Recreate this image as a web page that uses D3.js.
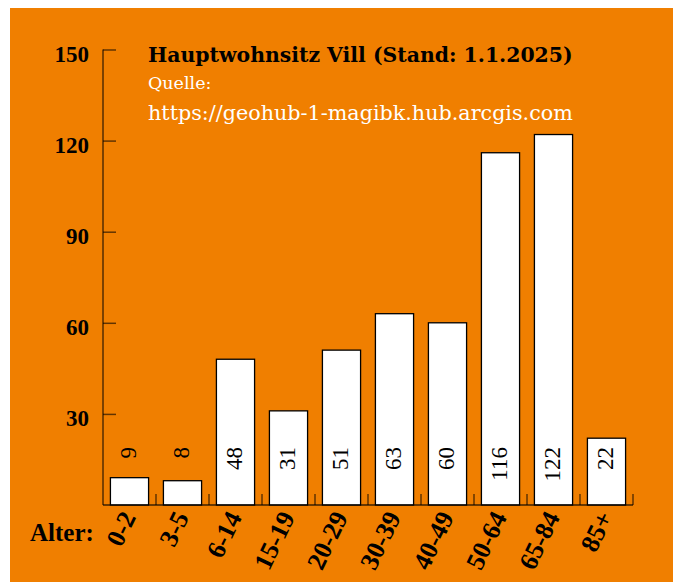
<!DOCTYPE html>
<html>
<head>
<meta charset="utf-8">
<script src="https://cdn.jsdelivr.net/npm/d3@7"></script>
<style>
  body { margin: 0; background: #fff; }
  svg { display: block; font-family: "Liberation Serif", serif; }
</style>
</head>
<body>
<svg id="chart" width="673" height="582"></svg>
<script>
// data
var ageGroups = ['0-2', '3-5', '6-14', '15-19', '20-29', '30-39', '40-49', '50-64', '65-84', '85+']
var residents = [9, 8, 48, 31, 51, 63, 60, 116, 122, 22]
var yTicks = [30, 60, 90, 120, 150]

var svg = d3.select('#chart')

// orange panel
svg.append('rect')
    .attr('x', 10).attr('y', 8)
    .attr('width', 663).attr('height', 574)
    .attr('fill', '#f07f00')

var x = d3.scaleBand()
    .domain(ageGroups)
    .range([103, 633])
    .paddingInner(0.28)
    .paddingOuter(0.14)

var y = d3.scaleLinear()
    .domain([0, 150])
    .range([505, 49.5])

var data = ageGroups.map(function(d, i) {
    return { age: d, value: residents[i] }
})

// bars
svg.selectAll('.bar')
    .data(data)
    .enter().append('rect')
    .attr('class', 'bar')
    .attr('x', function(d) { return x(d.age) })
    .attr('y', function(d) { return y(d.value) })
    .attr('width', x.bandwidth())
    .attr('height', function(d) { return y(0) - y(d.value) })
    .attr('fill', '#fff')
    .attr('stroke', '#000')
    .attr('stroke-width', 1.3)

// y axis, ticks pointing inward
var yAxis = svg.append('g')
    .attr('transform', 'translate(103,0)')
    .call(d3.axisLeft(y).tickValues(yTicks).tickSize(-13).tickPadding(14).tickSizeOuter(0))

yAxis.select('.domain')
    .attr('d', 'M0,' + y(150) + 'V' + y(0))
    .attr('stroke', '#000').attr('stroke-opacity', 0.65).attr('stroke-width', 1.5)
yAxis.selectAll('.tick line')
    .attr('stroke', '#000').attr('stroke-opacity', 0.6).attr('stroke-width', 1.5)
yAxis.selectAll('.tick text')
    .attr('font-family', '"Liberation Serif", serif')
    .attr('font-size', 23)
    .attr('font-weight', 'bold')
    .attr('fill', '#000')
    .attr('dy', '0.5em')

// x baseline and boundary ticks
svg.append('line')
    .attr('x1', 103).attr('x2', 633)
    .attr('y1', y(0)).attr('y2', y(0))
    .attr('stroke', '#000').attr('stroke-opacity', 0.75).attr('stroke-width', 1.5)

var step = x.step()
svg.selectAll('.xtick')
    .data(ageGroups)
    .enter().append('line')
    .attr('class', 'xtick')
    .attr('x1', function(d) { return x(d) - step * 0.14 + step })
    .attr('x2', function(d) { return x(d) - step * 0.14 + step })
    .attr('y1', y(0)).attr('y2', y(0) - 11)
    .attr('stroke', '#000').attr('stroke-opacity', 0.6).attr('stroke-width', 1.5)

// x labels, rotated
svg.selectAll('.xlabel')
    .data(ageGroups)
    .enter().append('text')
    .attr('class', 'xlabel')
    .attr('transform', function(d) {
        return 'translate(' + (x(d) + x.bandwidth() / 2 + 7) + ',517) rotate(-64)'
    })
    .attr('text-anchor', 'end')
    .attr('font-size', 26)
    .attr('font-weight', 'bold')
    .attr('fill', '#000')
    .text(function(d) { return d })

svg.append('text')
    .attr('x', 30).attr('y', 541)
    .attr('font-size', 25)
    .attr('font-weight', 'bold')
    .attr('fill', '#000')
    .text('Alter:')

// value labels
svg.selectAll('.vlabel')
    .data(data)
    .enter().append('text')
    .attr('class', 'vlabel')
    .attr('transform', function(d) {
        return 'translate(' + (x(d.age) + x.bandwidth() / 2 + 6) + ',447) rotate(-90)'
    })
    .attr('text-anchor', 'end')
    .attr('font-size', 23)
    .attr('fill', '#000')
    .text(function(d) { return d.value })

// titles
svg.append('text')
    .attr('x', 148).attr('y', 62)
    .style('font-family', '"DejaVu Serif", serif')
    .attr('font-size', 20.4)
    .attr('font-weight', 'bold')
    .attr('fill', '#000')
    .text('Hauptwohnsitz Vill (Stand: 1.1.2025)')

svg.append('text')
    .attr('x', 148).attr('y', 89)
    .style('font-family', '"DejaVu Serif", serif')
    .attr('font-size', 17.5)
    .attr('fill', '#fff')
    .text('Quelle:')

svg.append('text')
    .attr('x', 148).attr('y', 120)
    .style('font-family', '"DejaVu Serif", serif')
    .attr('font-size', 20.7)
    .attr('fill', '#fff')
    .text('https://geohub-1-magibk.hub.arcgis.com')
</script>
</body>
</html>
